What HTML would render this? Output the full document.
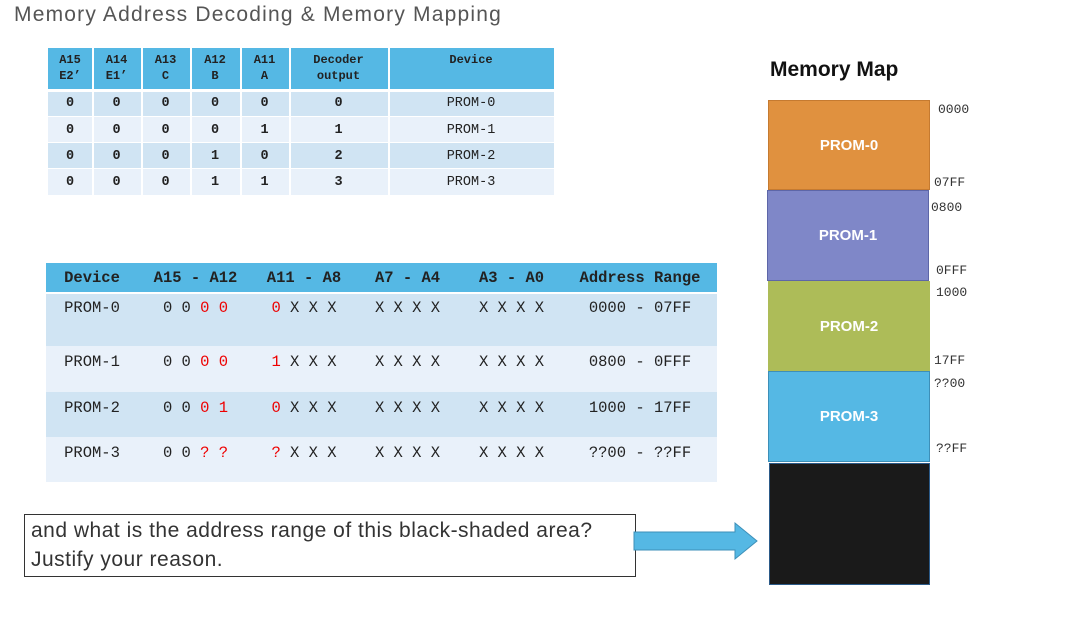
<!DOCTYPE html>
<html><head><meta charset="utf-8"><style>
body{margin:0;width:1073px;height:622px;background:#fff;position:relative;overflow:hidden;font-family:"Liberation Sans",sans-serif}
.a{position:absolute}
.m{font-family:"Liberation Mono","DejaVu Sans Mono",monospace}
.c{position:absolute;display:flex;align-items:center;justify-content:center;text-align:center;box-sizing:border-box}
.c>span{white-space:pre}
.r{color:#e00}
</style></head><body>
<div class="a" style="left:14px;top:3px;font-size:21px;letter-spacing:1.2px;color:#555">Memory Address Decoding &amp; Memory Mapping</div>

<div class="a" style="left:48px;top:48px;width:506px;height:41px;background:#55b8e4"></div>
<div class="a" style="left:48px;top:92px;width:506px;height:25px;background:#d0e4f3"></div>
<div class="a" style="left:48px;top:117px;width:506px;height:26px;background:#e9f1fa"></div>
<div class="a" style="left:48px;top:143px;width:506px;height:26px;background:#d0e4f3"></div>
<div class="a" style="left:48px;top:169px;width:506px;height:26px;background:#e9f1fa"></div>
<div id="t1"></div>

<div class="a" style="left:46px;top:263px;width:671px;height:29px;background:#55b8e4"></div>
<div class="a" style="left:46px;top:294px;width:671px;height:52px;background:#d0e4f3"></div>
<div class="a" style="left:46px;top:346px;width:671px;height:46px;background:#e9f1fa"></div>
<div class="a" style="left:46px;top:392px;width:671px;height:45px;background:#d0e4f3"></div>
<div class="a" style="left:46px;top:437px;width:671px;height:45px;background:#e9f1fa"></div>
<div id="t2"></div>

<div class="a" style="left:770px;top:58px;font-size:21px;font-weight:bold;color:#111">Memory Map</div>
<div class="c" style="left:768px;top:100px;width:162px;height:90px;background:#e0913f;color:#fff;font-weight:bold;font-size:15px;border:1px solid #c57a30">PROM-0</div>
<div class="c" style="left:767px;top:190px;width:162px;height:91px;background:#7f87c8;color:#fff;font-weight:bold;font-size:15px;border:1px solid #5d66a8">PROM-1</div>
<div class="c" style="left:768px;top:281px;width:162px;height:90px;background:#adbc58;color:#fff;font-weight:bold;font-size:15px">PROM-2</div>
<div class="c" style="left:768px;top:371px;width:162px;height:91px;background:#55b8e4;color:#fff;font-weight:bold;font-size:15px;border:1px solid #3d8fb8">PROM-3</div>
<div class="a" style="left:769px;top:463px;width:161px;height:122px;background:#1a1a1a;border:1px solid #2b5a88;box-sizing:border-box"></div>
<div class="a m" style="left:938px;top:102px;font-size:13px;color:#333">0000</div>
<div class="a m" style="left:934px;top:175px;font-size:13px;color:#333">07FF</div>
<div class="a m" style="left:931px;top:200px;font-size:13px;color:#333">0800</div>
<div class="a m" style="left:936px;top:263px;font-size:13px;color:#333">0FFF</div>
<div class="a m" style="left:936px;top:285px;font-size:13px;color:#333">1000</div>
<div class="a m" style="left:934px;top:353px;font-size:13px;color:#333">17FF</div>
<div class="a m" style="left:934px;top:376px;font-size:13px;color:#333">??00</div>
<div class="a m" style="left:936px;top:441px;font-size:13px;color:#333">??FF</div>

<div class="a" style="left:24px;top:514px;width:612px;height:63px;border:1px solid #333;box-sizing:border-box;padding:1px 6px;font-size:21px;letter-spacing:0.5px;line-height:29px;color:#333;white-space:nowrap">and what is the address range of this black-shaded area?<br>Justify your reason.</div>
<svg class="a" style="left:630px;top:520px" width="130" height="45"><polygon points="4,12 105,12 105,3 127,21 105,39 105,30 4,30" fill="#55b8e4" stroke="#3d8fb8" stroke-width="1"/></svg>

<script>
function cells(host,xs,ys,rows,style){let h='';for(let i=0;i<rows.length;i++)for(let j=0;j<rows[i].length;j++){const st=style(i,j);h+=`<div class="c m" style="left:${xs[j]}px;top:${ys[i]}px;width:${xs[j+1]-xs[j]}px;height:${ys[i+1]-ys[i]}px;${st}"><span>${rows[i][j]}</span></div>`;}document.getElementById(host).innerHTML=h;}
let sep='';
[92,141,190,240,289,388].forEach(x=>sep+=`<div class="a" style="left:${x}px;top:48px;width:2px;height:147px;background:#fff"></div>`);
[89,116,142,168].forEach(y=>sep+=`<div class="a" style="left:48px;top:${y}px;width:506px;height:${y==89?3:1}px;background:#fff"></div>`);
[138,253,355,460,563].forEach(x=>sep+=`<div class="a" style="left:${x}px;top:263px;width:2px;height:219px;background:#fff"></div>`);
[292,346,392,437].forEach(y=>sep+=`<div class="a" style="left:46px;top:${y}px;width:671px;height:${y==292?2:1}px;background:#fff"></div>`);
cells('t1',[48,92,141,190,240,289,388,554],[48,89,117,143,169,195],
[['A15\nE2’','A14\nE1’','A13\nC','A12\nB','A11\nA','Decoder\noutput','Device'],
['0','0','0','0','0','0','PROM-0'],['0','0','0','0','1','1','PROM-1'],['0','0','0','1','0','2','PROM-2'],['0','0','0','1','1','3','PROM-3']],
(i,j)=>i==0?'font-size:12px;font-weight:bold;line-height:16px;color:#222;align-items:flex-start;padding-top:4px':(j==6?'font-size:13.5px;color:#222':'font-size:13.5px;font-weight:bold;color:#222'));
document.getElementById('t1').innerHTML+=sep;
cells('t2',[46,138,253,355,460,563,717],[263,292,346,392,437,482],
[['Device','A15 - A12','A11 - A8','A7 - A4','A3 - A0','Address Range'],
['PROM-0','0 0 <span class=r>0 0</span>','<span class=r>0</span> X X X','X X X X','X X X X','0000 - 07FF'],
['PROM-1','0 0 <span class=r>0 0</span>','<span class=r>1</span> X X X','X X X X','X X X X','0800 - 0FFF'],
['PROM-2','0 0 <span class=r>0 1</span>','<span class=r>0</span> X X X','X X X X','X X X X','1000 - 17FF'],
['PROM-3','0 0 <span class=r>? ?</span>','<span class=r>?</span> X X X','X X X X','X X X X','??00 - ??FF']],
(i,j)=>i==0?'font-size:15.5px;font-weight:bold;color:#222':'font-size:15.5px;color:#222;align-items:flex-start;padding-top:7px');
</script>
</body></html>
